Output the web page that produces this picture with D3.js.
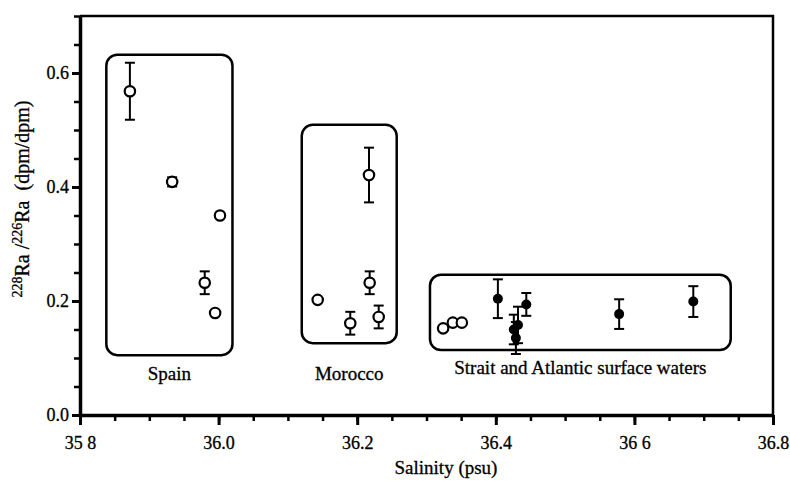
<!DOCTYPE html>
<html lang="en">
<head>
<meta charset="utf-8">
<title></title>
<script src="https://cdn.jsdelivr.net/npm/d3@7"></script>
<style>
  body { margin: 0; background: #fff; }
  text { font-family: "Liberation Serif", "DejaVu Serif", serif; fill: #000; stroke: #000; stroke-width: 0.3px; }
</style>
</head>
<body>
<script>
// open circles (Spain, Morocco, strait)
var openX   = [35.872, 35.933, 36.002, 35.980, 35.995, 36.143, 36.190, 36.217, 36.218, 36.231, 36.324, 36.338, 36.351];
var openY   = [0.568, 0.409, 0.350, 0.232, 0.179, 0.202, 0.161, 0.421, 0.232, 0.172, 0.152, 0.162, 0.162];
var openErr = [0.050, 0.008, 0, 0.020, 0, 0, 0.020, 0.048, 0.020, 0.020, 0, 0, 0];

// filled dots (Atlantic surface waters)
var fillX   = [36.403, 36.426, 36.432, 36.429, 36.444, 36.578, 36.685];
var fillY   = [0.204, 0.150, 0.158, 0.135, 0.194, 0.177, 0.199];
var fillErr = [0.034, 0.026, 0.032, 0.028, 0.020, 0.026, 0.027];

// grouping boxes
var boxLabels = ["Spain", "Morocco", "Strait and Atlantic surface waters"];
var boxX0 = [35.838, 36.120, 36.305];
var boxX1 = [36.020, 36.257, 36.739];
var boxY0 = [0.105, 0.126, 0.114];
var boxY1 = [0.632, 0.509, 0.246];
var labelY = [0.061, 0.061, 0.072];

var xTicks = [35.8, 36.0, 36.2, 36.4, 36.6, 36.8];
var xTickLabels = ["35 8", "36.0", "36.2", "36.4", "36 6", "36.8"];
var yTicks = [0, 0.2, 0.4, 0.6];

var w = 790, h = 481;
var pLeft = 80, pRight = 773, pTop = 16, pBottom = 415;

var svg = d3.select("body").append("svg")
    .attr("width", w)
    .attr("height", h);

var x = d3.scaleLinear().domain([35.8, 36.8]).range([pLeft, pRight]);
var y = d3.scaleLinear().domain([0, 0.7]).range([pBottom, pTop]);

// frame top + right
svg.append("path")
    .attr("d", "M" + pLeft + "," + pTop + "H" + pRight + "V" + pBottom)
    .attr("fill", "none")
    .attr("stroke", "#000")
    .attr("stroke-width", 2.5);

// minor ticks
var xMinor = d3.range(35.8, 36.801, 0.05);
var yMinor = d3.range(0, 0.701, 0.05);

svg.append("g")
    .attr("transform", "translate(0," + pBottom + ")")
    .call(d3.axisBottom(x).tickValues(xMinor).tickSize(6).tickFormat(""))
    .call(function(g) { g.select(".domain").remove(); })
    .selectAll("line").attr("stroke-width", 2.5);

svg.append("g")
    .attr("transform", "translate(" + pLeft + ",0)")
    .call(d3.axisLeft(y).tickValues(yMinor).tickSize(6).tickFormat(""))
    .call(function(g) { g.select(".domain").remove(); })
    .selectAll("line").attr("stroke-width", 2.5);

// major axes
var xAxis = svg.append("g")
    .attr("transform", "translate(0," + pBottom + ")")
    .call(d3.axisBottom(x).tickValues(xTicks).tickSize(10).tickSizeOuter(0).tickPadding(11)
        .tickFormat(function(d, i) { return xTickLabels[i]; }));
xAxis.select(".domain").attr("stroke-width", 3.5);
xAxis.selectAll("line").attr("stroke-width", 3);
xAxis.selectAll("text").style("font-size", "18px");

var yAxis = svg.append("g")
    .attr("transform", "translate(" + pLeft + ",0)")
    .call(d3.axisLeft(y).tickValues(yTicks).tickSize(8).tickSizeOuter(0).tickPadding(3)
        .tickFormat(d3.format(".1f")));
yAxis.select(".domain").attr("stroke-width", 3.5);
yAxis.selectAll("line").attr("stroke-width", 3);
yAxis.selectAll("text").style("font-size", "18px");

// boxes
svg.selectAll(".box")
    .data(boxLabels)
    .enter().append("rect")
    .attr("class", "box")
    .attr("x", function(d, i) { return x(boxX0[i]); })
    .attr("y", function(d, i) { return y(boxY1[i]); })
    .attr("width", function(d, i) { return x(boxX1[i]) - x(boxX0[i]); })
    .attr("height", function(d, i) { return y(boxY0[i]) - y(boxY1[i]); })
    .attr("rx", 11)
    .attr("fill", "none")
    .attr("stroke", "#000")
    .attr("stroke-width", 2.5);

svg.selectAll(".boxlabel")
    .data(boxLabels)
    .enter().append("text")
    .attr("class", "boxlabel")
    .attr("x", function(d, i) { return (x(boxX0[i]) + x(boxX1[i])) / 2; })
    .attr("y", function(d, i) { return y(labelY[i]); })
    .attr("text-anchor", "middle")
    .style("font-size", "19px")
    .text(function(d) { return d; });

// error bars
function errBars(xs, ys, es) {
  var g = svg.append("g").attr("stroke", "#000").attr("stroke-width", 2);
  xs.forEach(function(v, i) {
    if (!es[i]) return;
    var cx = x(v), y0 = y(ys[i] - es[i]), y1 = y(ys[i] + es[i]);
    g.append("line").attr("x1", cx).attr("x2", cx).attr("y1", y0).attr("y2", y1);
    g.append("line").attr("x1", cx - 5).attr("x2", cx + 5).attr("y1", y0).attr("y2", y0);
    g.append("line").attr("x1", cx - 5).attr("x2", cx + 5).attr("y1", y1).attr("y2", y1);
  });
}
errBars(openX, openY, openErr);
errBars(fillX, fillY, fillErr);

svg.selectAll(".open")
    .data(openX)
    .enter().append("circle")
    .attr("class", "open")
    .attr("cx", function(d) { return x(d); })
    .attr("cy", function(d, i) { return y(openY[i]); })
    .attr("r", 5.2)
    .attr("fill", "#fff")
    .attr("stroke", "#000")
    .attr("stroke-width", 2.2);

svg.selectAll(".fill")
    .data(fillX)
    .enter().append("circle")
    .attr("class", "fill")
    .attr("cx", function(d) { return x(d); })
    .attr("cy", function(d, i) { return y(fillY[i]); })
    .attr("r", 5)
    .attr("fill", "#000");

// axis titles
svg.append("text")
    .attr("x", 446)
    .attr("y", 474)
    .attr("text-anchor", "middle")
    .style("font-size", "19px")
    .text("Salinity (psu)");

var yt = svg.append("text")
    .attr("transform", "translate(29,199) rotate(-90)")
    .attr("text-anchor", "middle")
    .style("font-size", "20px")
    .style("white-space", "pre");
yt.append("tspan").attr("font-size", "14px").attr("dy", "-7").text("228");
yt.append("tspan").attr("dy", "7").text("Ra /");
yt.append("tspan").attr("font-size", "14px").attr("dy", "-7").text("226");
yt.append("tspan").attr("dy", "7").text("Ra  (dpm/dpm)");
</script>
</body>
</html>
